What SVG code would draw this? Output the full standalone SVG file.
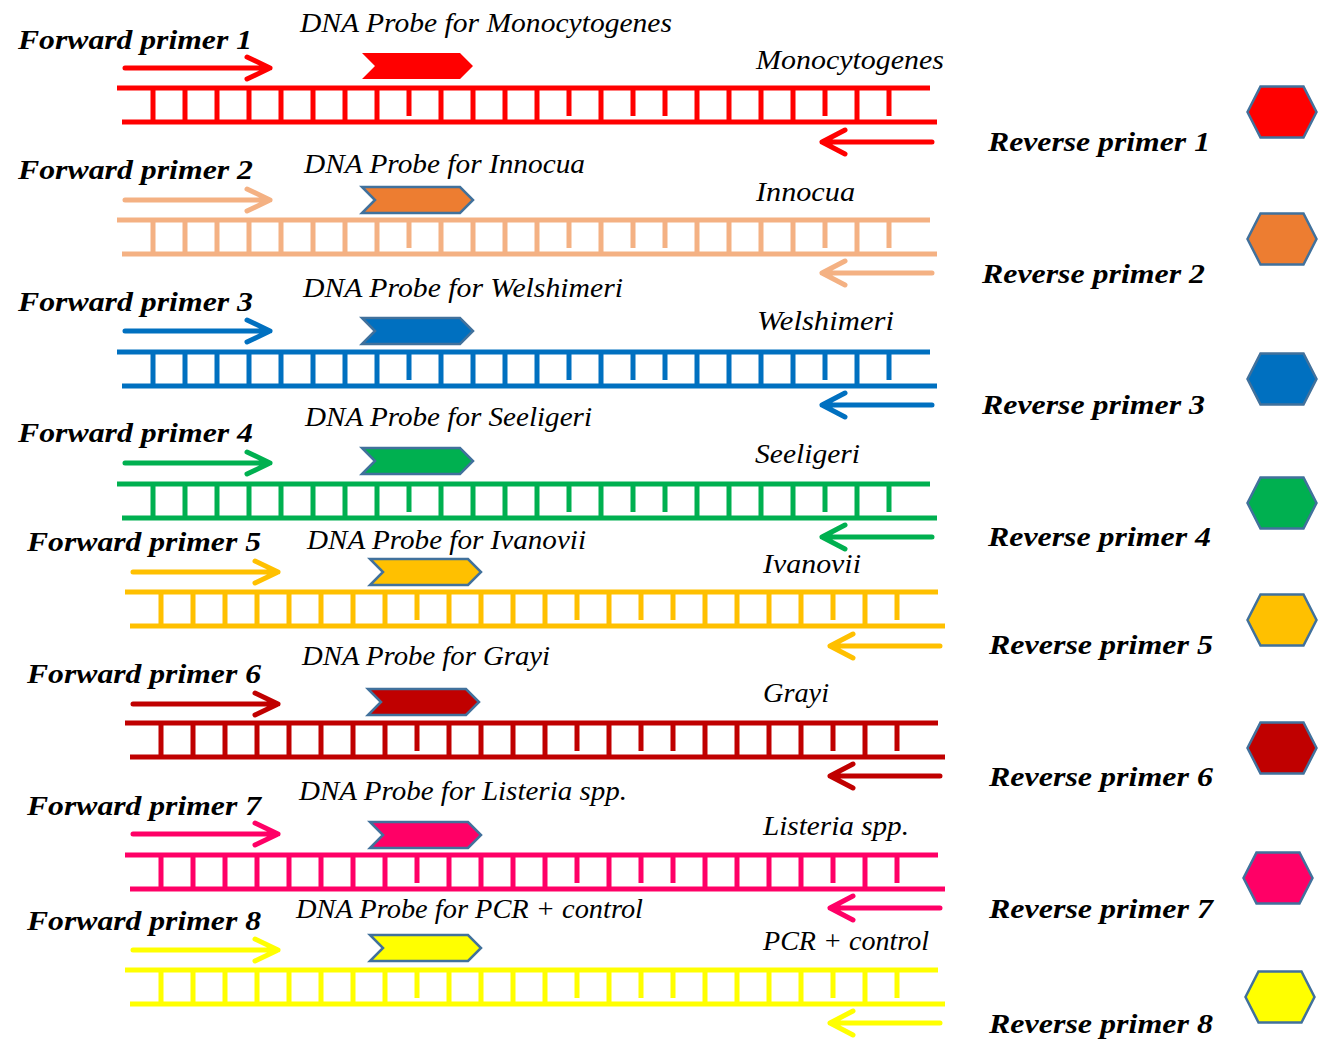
<svg xmlns="http://www.w3.org/2000/svg" xmlns:xlink="http://www.w3.org/1999/xlink" width="1327" height="1041" viewBox="0 0 1327 1041">
  <style>
    text { font-family: "Liberation Serif", "Times New Roman", serif; font-style: italic; fill: #000; }
    .fw, .rv { font-weight: bold; font-size: 28px; }
    .lbl { font-size: 27px; }
    .strand { fill: none; stroke-width: 5; }
    .primer { fill: none; stroke-width: 5; stroke-linecap: round; stroke-linejoin: round; }
    .probe { stroke: #41719C; stroke-width: 2.5; stroke-linejoin: miter; }
    .hex { stroke: #41719C; stroke-width: 2.5; }
  </style>
  <defs>
    <!-- double strand: two rails with base-pair rungs (a few shorter ones) -->
    <path id="ladder" d="M117 0H930M122 34H937
      M153 0V34M185 0V34M217 0V34M249 0V34M281 0V34M313 0V34M345 0V34M377 0V33
      M409 0V28M441 0V34M473 0V34M505 0V34M537 0V34M569 0V28M601 0V34M633 0V28
      M665 0V28M697 0V34M729 0V34M761 0V34M793 0V34M825 0V28M857 0V34M889 0V28"/>
    <!-- forward and reverse primer arrows -->
    <path id="fwd" d="M125 0H270M247 -11L270 0L247 11"/>
    <path id="rev" d="M932 0H822M845 -12L822 0L845 12"/>
    <!-- probe tag and hexagon legend key -->
    <polygon id="probe" points="362,0 460,0 473,13 460,26 362,26 375,13"/>
    <polygon id="hex" points="-21.5,-25.5 21.5,-25.5 34.5,0 21.5,25.5 -21.5,25.5 -34.5,0"/>
  </defs>

  <!-- 1: Monocytogenes -->
  <g id="row1">
    <text class="fw" x="18" y="49" textLength="234" lengthAdjust="spacingAndGlyphs">Forward primer 1</text>
    <text class="lbl" x="300" y="31.5" textLength="372" lengthAdjust="spacingAndGlyphs">DNA Probe for Monocytogenes</text>
    <text class="lbl" x="756" y="68.5" textLength="188" lengthAdjust="spacingAndGlyphs">Monocytogenes</text>
    <text class="rv" x="988" y="151" textLength="222" lengthAdjust="spacingAndGlyphs">Reverse primer 1</text>
    <use xlink:href="#fwd" href="#fwd" class="primer" stroke="#FF0000" transform="translate(0,68)"/>
    <use xlink:href="#probe" href="#probe" fill="#FF0000" transform="translate(0,53)"/>
    <use xlink:href="#ladder" href="#ladder" class="strand" stroke="#FF0000" transform="translate(0,88)"/>
    <use xlink:href="#rev" href="#rev" class="primer" stroke="#FF0000" transform="translate(0,142)"/>
    <use xlink:href="#hex" href="#hex" class="hex" fill="#FF0000" transform="translate(1282,112)"/>
  </g>

  <!-- 2: Innocua -->
  <g id="row2">
    <text class="fw" x="18" y="179" textLength="235" lengthAdjust="spacingAndGlyphs">Forward primer 2</text>
    <text class="lbl" x="304" y="173" textLength="281" lengthAdjust="spacingAndGlyphs">DNA Probe for Innocua</text>
    <text class="lbl" x="756" y="201" textLength="99" lengthAdjust="spacingAndGlyphs">Innocua</text>
    <text class="rv" x="982" y="283" textLength="223" lengthAdjust="spacingAndGlyphs">Reverse primer 2</text>
    <use xlink:href="#fwd" href="#fwd" class="primer" stroke="#F4B183" transform="translate(0,200)"/>
    <use xlink:href="#probe" href="#probe" class="probe" fill="#ED7D31" transform="translate(0,187)"/>
    <use xlink:href="#ladder" href="#ladder" class="strand" stroke="#F4B183" transform="translate(0,220)"/>
    <use xlink:href="#rev" href="#rev" class="primer" stroke="#F4B183" transform="translate(0,273)"/>
    <use xlink:href="#hex" href="#hex" class="hex" fill="#ED7D31" transform="translate(1282,239)"/>
  </g>

  <!-- 3: Welshimeri -->
  <g id="row3">
    <text class="fw" x="18" y="311" textLength="235" lengthAdjust="spacingAndGlyphs">Forward primer 3</text>
    <text class="lbl" x="303" y="297" textLength="320" lengthAdjust="spacingAndGlyphs">DNA Probe for Welshimeri</text>
    <text class="lbl" x="757" y="330" textLength="137" lengthAdjust="spacingAndGlyphs">Welshimeri</text>
    <text class="rv" x="982" y="414" textLength="223" lengthAdjust="spacingAndGlyphs">Reverse primer 3</text>
    <use xlink:href="#fwd" href="#fwd" class="primer" stroke="#0070C0" transform="translate(0,331)"/>
    <use xlink:href="#probe" href="#probe" class="probe" fill="#0070C0" transform="translate(0,318)"/>
    <use xlink:href="#ladder" href="#ladder" class="strand" stroke="#0070C0" transform="translate(0,352)"/>
    <use xlink:href="#rev" href="#rev" class="primer" stroke="#0070C0" transform="translate(0,405)"/>
    <use xlink:href="#hex" href="#hex" class="hex" fill="#0070C0" transform="translate(1282,379)"/>
  </g>

  <!-- 4: Seeligeri -->
  <g id="row4">
    <text class="fw" x="18" y="442" textLength="235" lengthAdjust="spacingAndGlyphs">Forward primer 4</text>
    <text class="lbl" x="305" y="426" textLength="287" lengthAdjust="spacingAndGlyphs">DNA Probe for Seeligeri</text>
    <text class="lbl" x="755" y="463" textLength="105" lengthAdjust="spacingAndGlyphs">Seeligeri</text>
    <text class="rv" x="988" y="546" textLength="223" lengthAdjust="spacingAndGlyphs">Reverse primer 4</text>
    <use xlink:href="#fwd" href="#fwd" class="primer" stroke="#00B050" transform="translate(0,463)"/>
    <use xlink:href="#probe" href="#probe" class="probe" fill="#00B050" transform="translate(0,448)"/>
    <use xlink:href="#ladder" href="#ladder" class="strand" stroke="#00B050" transform="translate(0,484)"/>
    <use xlink:href="#rev" href="#rev" class="primer" stroke="#00B050" transform="translate(0,537)"/>
    <use xlink:href="#hex" href="#hex" class="hex" fill="#00B050" transform="translate(1282,503)"/>
  </g>

  <!-- 5: Ivanovii -->
  <g id="row5">
    <text class="fw" x="27" y="551" textLength="234" lengthAdjust="spacingAndGlyphs">Forward primer 5</text>
    <text class="lbl" x="307" y="549" textLength="279" lengthAdjust="spacingAndGlyphs">DNA Probe for Ivanovii</text>
    <text class="lbl" x="763" y="573" textLength="98" lengthAdjust="spacingAndGlyphs">Ivanovii</text>
    <text class="rv" x="989" y="654" textLength="224" lengthAdjust="spacingAndGlyphs">Reverse primer 5</text>
    <use xlink:href="#fwd" href="#fwd" class="primer" stroke="#FFC000" transform="translate(8,572)"/>
    <use xlink:href="#probe" href="#probe" class="probe" fill="#FFC000" transform="translate(8,559)"/>
    <use xlink:href="#ladder" href="#ladder" class="strand" stroke="#FFC000" transform="translate(8,592)"/>
    <use xlink:href="#rev" href="#rev" class="primer" stroke="#FFC000" transform="translate(8,646)"/>
    <use xlink:href="#hex" href="#hex" class="hex" fill="#FFC000" transform="translate(1282,620)"/>
  </g>

  <!-- 6: Grayi -->
  <g id="row6">
    <text class="fw" x="27" y="683" textLength="234" lengthAdjust="spacingAndGlyphs">Forward primer 6</text>
    <text class="lbl" x="302" y="665" textLength="248" lengthAdjust="spacingAndGlyphs">DNA Probe for Grayi</text>
    <text class="lbl" x="763" y="702" textLength="66" lengthAdjust="spacingAndGlyphs">Grayi</text>
    <text class="rv" x="989" y="786" textLength="224" lengthAdjust="spacingAndGlyphs">Reverse primer 6</text>
    <use xlink:href="#fwd" href="#fwd" class="primer" stroke="#C00000" transform="translate(8,704)"/>
    <use xlink:href="#probe" href="#probe" class="probe" fill="#C00000" transform="translate(6,689)"/>
    <use xlink:href="#ladder" href="#ladder" class="strand" stroke="#C00000" transform="translate(8,723)"/>
    <use xlink:href="#rev" href="#rev" class="primer" stroke="#C00000" transform="translate(8,776)"/>
    <use xlink:href="#hex" href="#hex" class="hex" fill="#C00000" transform="translate(1282,748)"/>
  </g>

  <!-- 7: Listeria spp. -->
  <g id="row7">
    <text class="fw" x="27" y="815" textLength="234" lengthAdjust="spacingAndGlyphs">Forward primer 7</text>
    <text class="lbl" x="299" y="800" textLength="328" lengthAdjust="spacingAndGlyphs">DNA Probe for Listeria spp.</text>
    <text class="lbl" x="763" y="835" textLength="146" lengthAdjust="spacingAndGlyphs">Listeria spp.</text>
    <text class="rv" x="989" y="918" textLength="224" lengthAdjust="spacingAndGlyphs">Reverse primer 7</text>
    <use xlink:href="#fwd" href="#fwd" class="primer" stroke="#FF0066" transform="translate(8,834)"/>
    <use xlink:href="#probe" href="#probe" class="probe" fill="#FF0066" transform="translate(8,822)"/>
    <use xlink:href="#ladder" href="#ladder" class="strand" stroke="#FF0066" transform="translate(8,855)"/>
    <use xlink:href="#rev" href="#rev" class="primer" stroke="#FF0066" transform="translate(8,908)"/>
    <use xlink:href="#hex" href="#hex" class="hex" fill="#FF0066" transform="translate(1278,878)"/>
  </g>

  <!-- 8: PCR + control -->
  <g id="row8">
    <text class="fw" x="27" y="930" textLength="234" lengthAdjust="spacingAndGlyphs">Forward primer 8</text>
    <text class="lbl" x="296" y="918" textLength="347" lengthAdjust="spacingAndGlyphs">DNA Probe for PCR + control</text>
    <text class="lbl" x="763" y="950" textLength="166" lengthAdjust="spacingAndGlyphs">PCR + control</text>
    <text class="rv" x="989" y="1033" textLength="224" lengthAdjust="spacingAndGlyphs">Reverse primer 8</text>
    <use xlink:href="#fwd" href="#fwd" class="primer" stroke="#FFFF00" transform="translate(8,950)"/>
    <use xlink:href="#probe" href="#probe" class="probe" fill="#FFFF00" transform="translate(8,935)"/>
    <use xlink:href="#ladder" href="#ladder" class="strand" stroke="#FFFF00" transform="translate(8,970)"/>
    <use xlink:href="#rev" href="#rev" class="primer" stroke="#FFFF00" transform="translate(8,1023)"/>
    <use xlink:href="#hex" href="#hex" class="hex" fill="#FFFF00" transform="translate(1280,997)"/>
  </g>

  <!-- no separate connectors: primers are drawn inside each strand group -->
  <g id="connectors"/>
</svg>
